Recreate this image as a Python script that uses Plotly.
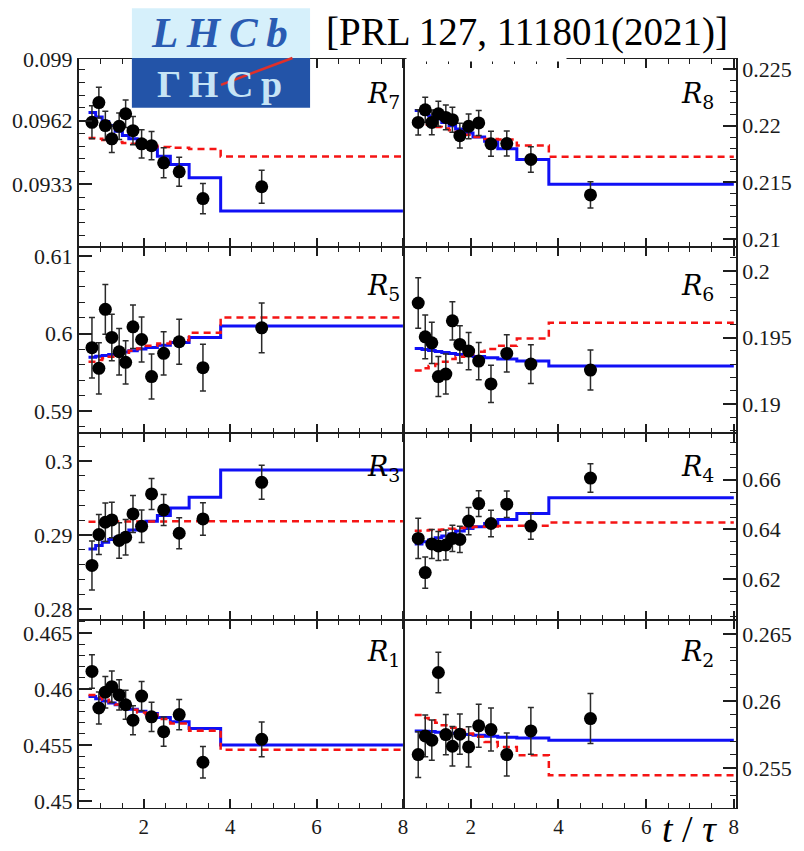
import plotly.graph_objects as go
from plotly.subplots import make_subplots

# Mean decay time of each bin (in units of the D0 lifetime) and bin boundaries
t_mean = [0.80, 0.96, 1.11, 1.26, 1.43, 1.58, 1.75, 1.95, 2.18, 2.46, 2.82, 3.37, 4.73]
t_edges = [0.72, 0.886, 1.037, 1.188, 1.337, 1.504, 1.653, 1.85, 2.05, 2.315, 2.615, 3.05, 3.78, 8.0]

# Measured ratios, their uncertainties, fit projection (solid) and alternative fit (dashed)
r7 = [0.09612, 0.09702, 0.09597, 0.09537, 0.09594, 0.09651, 0.09574, 0.09514, 0.09506, 0.09428, 0.09387, 0.09265, 0.09319]
r7_err = [0.00075, 0.00070, 0.00065, 0.00062, 0.00060, 0.00062, 0.00064, 0.00064, 0.00064, 0.00068, 0.00066, 0.00069, 0.00075]
r7_fit = [0.09657, 0.09636, 0.09616, 0.09597, 0.09571, 0.09552, 0.09537, 0.09518, 0.09499, 0.09458, 0.09420, 0.09360, 0.09209]
r7_alt = [0.09541, 0.09537, 0.09532, 0.09528, 0.09523, 0.09518, 0.09514, 0.09509, 0.09505, 0.09500, 0.09496, 0.09491, 0.09457]

r8 = [0.22029, 0.22140, 0.22029, 0.22105, 0.22073, 0.22053, 0.21912, 0.21994, 0.22024, 0.21840, 0.21842, 0.21702, 0.21389]
r8_err = [0.00112, 0.00110, 0.00110, 0.00110, 0.00110, 0.00110, 0.00110, 0.00110, 0.00110, 0.00110, 0.00110, 0.00112, 0.00116]
r8_fit = [0.22134, 0.22111, 0.22088, 0.22059, 0.22029, 0.22000, 0.21971, 0.21936, 0.21901, 0.21862, 0.21796, 0.21702, 0.21483]
r8_alt = [0.22018, 0.22009, 0.22000, 0.21989, 0.21976, 0.21959, 0.21941, 0.21921, 0.21901, 0.21883, 0.21877, 0.21825, 0.21726]

r5 = [0.59817, 0.59551, 0.60312, 0.59949, 0.59765, 0.59628, 0.60086, 0.59923, 0.59445, 0.59744, 0.59894, 0.59560, 0.60073]
r5_err = [0.0039, 0.0033, 0.0032, 0.0030, 0.0030, 0.0028, 0.0028, 0.0029, 0.0029, 0.0028, 0.0029, 0.0030, 0.0032]
r5_fit = [0.59693, 0.59706, 0.59718, 0.59731, 0.59744, 0.59761, 0.59778, 0.59799, 0.59821, 0.59850, 0.59885, 0.59949, 0.60098]
r5_alt = [0.59637, 0.59658, 0.59680, 0.59701, 0.59722, 0.59753, 0.59778, 0.59808, 0.59842, 0.59872, 0.59914, 0.60009, 0.60205]

r6 = [0.19759, 0.19505, 0.19460, 0.19207, 0.19226, 0.19625, 0.19448, 0.19398, 0.19323, 0.19152, 0.19381, 0.19301, 0.19256]
r6_err = [0.0019, 0.00164, 0.00155, 0.0015, 0.0015, 0.00143, 0.0014, 0.0014, 0.0014, 0.0014, 0.0014, 0.00145, 0.0015]
r6_fit = [0.19418, 0.19410, 0.19403, 0.19396, 0.19388, 0.19381, 0.19373, 0.19366, 0.19358, 0.19348, 0.19338, 0.19323, 0.19286]
r6_alt = [0.19252, 0.19269, 0.19286, 0.19301, 0.19319, 0.19338, 0.19356, 0.19373, 0.19393, 0.19413, 0.19438, 0.19493, 0.19610]

r3 = [0.28588, 0.29005, 0.29171, 0.29202, 0.28925, 0.28969, 0.29283, 0.29117, 0.29553, 0.29337, 0.29023, 0.29216, 0.29710]
r3_err = [0.0033, 0.0027, 0.0026, 0.0024, 0.0024, 0.0024, 0.0025, 0.0022, 0.0021, 0.0021, 0.0021, 0.0022, 0.0023]
r3_fit = [0.28811, 0.28857, 0.28902, 0.28938, 0.28969, 0.29013, 0.29067, 0.29127, 0.29185, 0.29262, 0.29364, 0.29508, 0.29876]
r3_alt = [0.29178, 0.29179, 0.29180, 0.29180, 0.29181, 0.29181, 0.29182, 0.29182, 0.29183, 0.29183, 0.29184, 0.29184, 0.29185]

r4 = [0.63640, 0.62268, 0.63416, 0.63336, 0.63376, 0.63640, 0.63600, 0.64336, 0.65040, 0.64240, 0.65016, 0.64136, 0.66068]
r4_err = [0.0081, 0.0063, 0.0058, 0.0058, 0.0060, 0.0053, 0.0053, 0.0055, 0.0052, 0.0053, 0.0053, 0.0053, 0.0057]
r4_fit = [0.63416, 0.63508, 0.63576, 0.63668, 0.63736, 0.63816, 0.63936, 0.64040, 0.64108, 0.64240, 0.64400, 0.64640, 0.65280]
r4_alt = [0.63948, 0.63960, 0.63976, 0.63988, 0.64000, 0.64028, 0.64056, 0.64080, 0.64108, 0.64120, 0.64136, 0.64148, 0.64280]

r1 = [0.46156, 0.45830, 0.45971, 0.46020, 0.45947, 0.45859, 0.45721, 0.45936, 0.45751, 0.45619, 0.45771, 0.45346, 0.45551]
r1_err = [0.0015, 0.00142, 0.0014, 0.0014, 0.00135, 0.0013, 0.0013, 0.0013, 0.0013, 0.0013, 0.00135, 0.0014, 0.00155]
r1_fit = [0.45932, 0.45912, 0.45892, 0.45874, 0.45859, 0.45839, 0.45818, 0.45800, 0.45780, 0.45745, 0.45707, 0.45648, 0.45501]
r1_alt = [0.45947, 0.45927, 0.45903, 0.45883, 0.45862, 0.45839, 0.45815, 0.45789, 0.45771, 0.45733, 0.45692, 0.45628, 0.45457]

r2 = [0.25602, 0.25741, 0.25709, 0.26213, 0.25751, 0.25664, 0.25754, 0.25659, 0.25816, 0.25788, 0.25602, 0.25778, 0.25870]
r2_err = [0.0017, 0.00155, 0.0015, 0.0015, 0.0015, 0.00147, 0.0015, 0.0015, 0.0016, 0.0016, 0.0016, 0.00174, 0.00186]
r2_fit = [0.25778, 0.25776, 0.25773, 0.25768, 0.25766, 0.25761, 0.25756, 0.25751, 0.25746, 0.25739, 0.25731, 0.25726, 0.25709]
r2_alt = [0.25896, 0.25875, 0.25858, 0.25838, 0.25821, 0.25801, 0.25784, 0.25758, 0.25734, 0.25696, 0.25659, 0.25597, 0.25448]

# Axis ticks for each panel
r7_ticks = [0.0933, 0.0962, 0.099]
r7_ticktext = ["0.0933", "0.0962", "0.099"]
r8_ticks = [0.21, 0.215, 0.22, 0.225]
r8_ticktext = ["0.21", "0.215", "0.22", "0.225"]
r5_ticks = [0.59, 0.60, 0.61]
r5_ticktext = ["0.59", "0.6", "0.61"]
r6_ticks = [0.19, 0.195, 0.20]
r6_ticktext = ["0.19", "0.195", "0.2"]
r3_ticks = [0.28, 0.29, 0.30]
r3_ticktext = ["0.28", "0.29", "0.3"]
r4_ticks = [0.62, 0.64, 0.66]
r4_ticktext = ["0.62", "0.64", "0.66"]
r1_ticks = [0.45, 0.455, 0.46, 0.465]
r1_ticktext = ["0.45", "0.455", "0.46", "0.465"]
r2_ticks = [0.255, 0.26, 0.265]
r2_ticktext = ["0.255", "0.26", "0.265"]
t_ticks = [2, 4, 6, 8]

SERIF = "Liberation Serif"
BLUE = "#1010f5"
RED = "#f51414"
FRAME = "#1e1e1e"

panels = [
    # row, col, label, data, err, fit, alt, y range, ticks, ticktext, minor tick0, minor dtick
    (1, 1, "7", r7, r7_err, r7_fit, r7_alt, [0.09045, 0.099], r7_ticks, r7_ticktext, 0.0933, 0.00058),
    (1, 2, "8", r8, r8_err, r8_fit, r8_alt, [0.2093, 0.22588], r8_ticks, r8_ticktext, 0.21, 0.001),
    (2, 1, "5", r5, r5_err, r5_fit, r5_alt, [0.58718, 0.61115], r5_ticks, r5_ticktext, 0.59, 0.002),
    (2, 2, "6", r6, r6_err, r6_fit, r6_alt, [0.18784, 0.20179], r6_ticks, r6_ticktext, 0.19, 0.001),
    (3, 1, "3", r3, r3_err, r3_fit, r3_alt, [0.27852, 0.30376], r3_ticks, r3_ticktext, 0.28, 0.002),
    (3, 2, "4", r4, r4_err, r4_fit, r4_alt, [0.6036, 0.6788], r4_ticks, r4_ticktext, 0.62, 0.005),
    (4, 1, "1", r1, r1_err, r1_fit, r1_alt, [0.44938, 0.46615], r1_ticks, r1_ticktext, 0.45, 0.001),
    (4, 2, "2", r2, r2_err, r2_fit, r2_alt, [0.25204, 0.26604], r2_ticks, r2_ticktext, 0.255, 0.001),
]

fig = make_subplots(rows=4, cols=2, horizontal_spacing=0, vertical_spacing=0)

# plot area: 77..748 px wide, 59..812 px tall
col_domains = {1: [0.0, 0.4963], 2: [0.4963, 1.0]}
row_domains = {1: [0.749, 1.0], 2: [0.5007, 0.749], 3: [0.251, 0.5007], 4: [0.0, 0.251]}
label_y = {1: 0.951, 2: 0.695, 3: 0.453, 4: 0.206}
label_x = {1: 0.4918, 2: 0.9702}

annotations = []
for row, col, lab, data, err, fit, alt, yr, ticks, ticktext, m0, mdt in panels:
    fig.add_trace(go.Scatter(
        x=t_edges, y=fit + [fit[-1]], mode="lines", line_shape="hv",
        line=dict(color=BLUE, width=3), showlegend=False, hoverinfo="skip"),
        row=row, col=col)
    fig.add_trace(go.Scatter(
        x=t_edges, y=alt + [alt[-1]], mode="lines", line_shape="hv",
        line=dict(color=RED, width=2.5, dash="7px,5px"), showlegend=False, hoverinfo="skip"),
        row=row, col=col)
    fig.add_trace(go.Scatter(
        x=t_mean, y=data, mode="markers",
        marker=dict(color="black", size=13),
        error_y=dict(type="data", array=err, color="#2a2a2a", thickness=1.5, width=3),
        showlegend=False),
        row=row, col=col)

    fig.update_xaxes(
        domain=col_domains[col], range=[0.5, 8.05],
        tickmode="array", tickvals=t_ticks, ticktext=[str(v) for v in t_ticks],
        showticklabels=(row == 4),
        ticks="inside", ticklen=9, tickwidth=1.5, tickcolor=FRAME,
        minor=dict(tickmode="linear", tick0=0.5, dtick=0.5, ticks="inside",
                   ticklen=5, tickwidth=1.2, tickcolor=FRAME),
        showline=True, linecolor=FRAME, linewidth=1.2, mirror="ticks",
        showgrid=False, zeroline=False,
        tickfont=dict(family=SERIF, size=21, color="#1a1a1a"),
        row=row, col=col)
    fig.update_yaxes(
        domain=row_domains[row], range=yr,
        tickmode="array", tickvals=ticks, ticktext=ticktext,
        side="left" if col == 1 else "right",
        ticks="inside", ticklen=13, tickwidth=1.5, tickcolor=FRAME,
        minor=dict(tickmode="linear", tick0=m0, dtick=mdt, ticks="inside",
                   ticklen=6, tickwidth=1.2, tickcolor=FRAME),
        showline=True, linecolor=FRAME, linewidth=2 if col == 1 else 1.6,
        mirror=(col == 2),
        showgrid=False, zeroline=False,
        tickfont=dict(family=SERIF, size=22, color="#1a1a1a"),
        row=row, col=col)

    annotations.append(dict(
        text="<i>R</i><sub>" + lab + "</sub>", xref="paper", yref="paper",
        x=label_x[col], y=label_y[row], xanchor="right", yanchor="middle",
        showarrow=False, font=dict(family="DejaVu Serif", size=27, color="black")))

# reference and axis title
annotations.append(dict(
    text="[PRL 127, 111801(2021)]", xref="paper", yref="paper",
    x=0.6826, y=1.036, xanchor="center", yanchor="middle", showarrow=False,
    font=dict(family=SERIF, size=39, color="black")))
annotations.append(dict(
    text="<i>t</i> / <i>τ</i>", xref="paper", yref="paper",
    x=0.9285, y=-0.028, xanchor="center", yanchor="middle", showarrow=False,
    font=dict(family=SERIF, size=38, color="black")))

# experiment logo: name in the upper band, its reflection in the lower band
annotations.append(dict(
    text="<b><i>L\u2009H\u2009C\u2009b</i></b>", xref="paper", yref="paper",
    x=0.2146, y=1.0355, xanchor="center", yanchor="middle", showarrow=False,
    font=dict(family=SERIF, size=43, color="#2a5bb2")))
annotations.append(dict(
    text="<b>Γ\u2009H\u2009C\u2009p</b>", xref="paper", yref="paper",
    x=0.2146, y=0.9665, xanchor="center", yanchor="middle", showarrow=False,
    font=dict(family=SERIF, size=38, color="#c6e4f5")))

shapes = [
    dict(type="rect", xref="paper", yref="paper", x0=0.0805, x1=0.3517, y0=1.0013, y1=1.0677,
         fillcolor="#d6f0fb", line=dict(width=0), layer="above"),
    dict(type="rect", xref="paper", yref="paper", x0=0.0805, x1=0.3517, y0=0.9349, y1=1.0013,
         fillcolor="#2354a8", line=dict(width=0), layer="above"),
    # white backing of the reference text, hiding part of the top frame
    dict(type="rect", xref="paper", yref="paper", x0=0.4985, x1=0.742, y0=0.9965, y1=1.0093,
         fillcolor="white", line=dict(width=0), layer="above"),
]

fig.update_layout(
    width=804, height=851,
    margin=dict(l=77, r=56, t=59, b=39),
    paper_bgcolor="white", plot_bgcolor="white",
    showlegend=False,
    shapes=shapes,
    annotations=annotations,
)
# diagonal accent across the logo
fig.add_shape(type="line", xref="paper", yref="paper", x0=0.2161, y0=0.9655, x1=0.3249, y1=1.0013,
              line=dict(color="#e0302a", width=2.5), layer="above")

fig.write_html("out.html")
